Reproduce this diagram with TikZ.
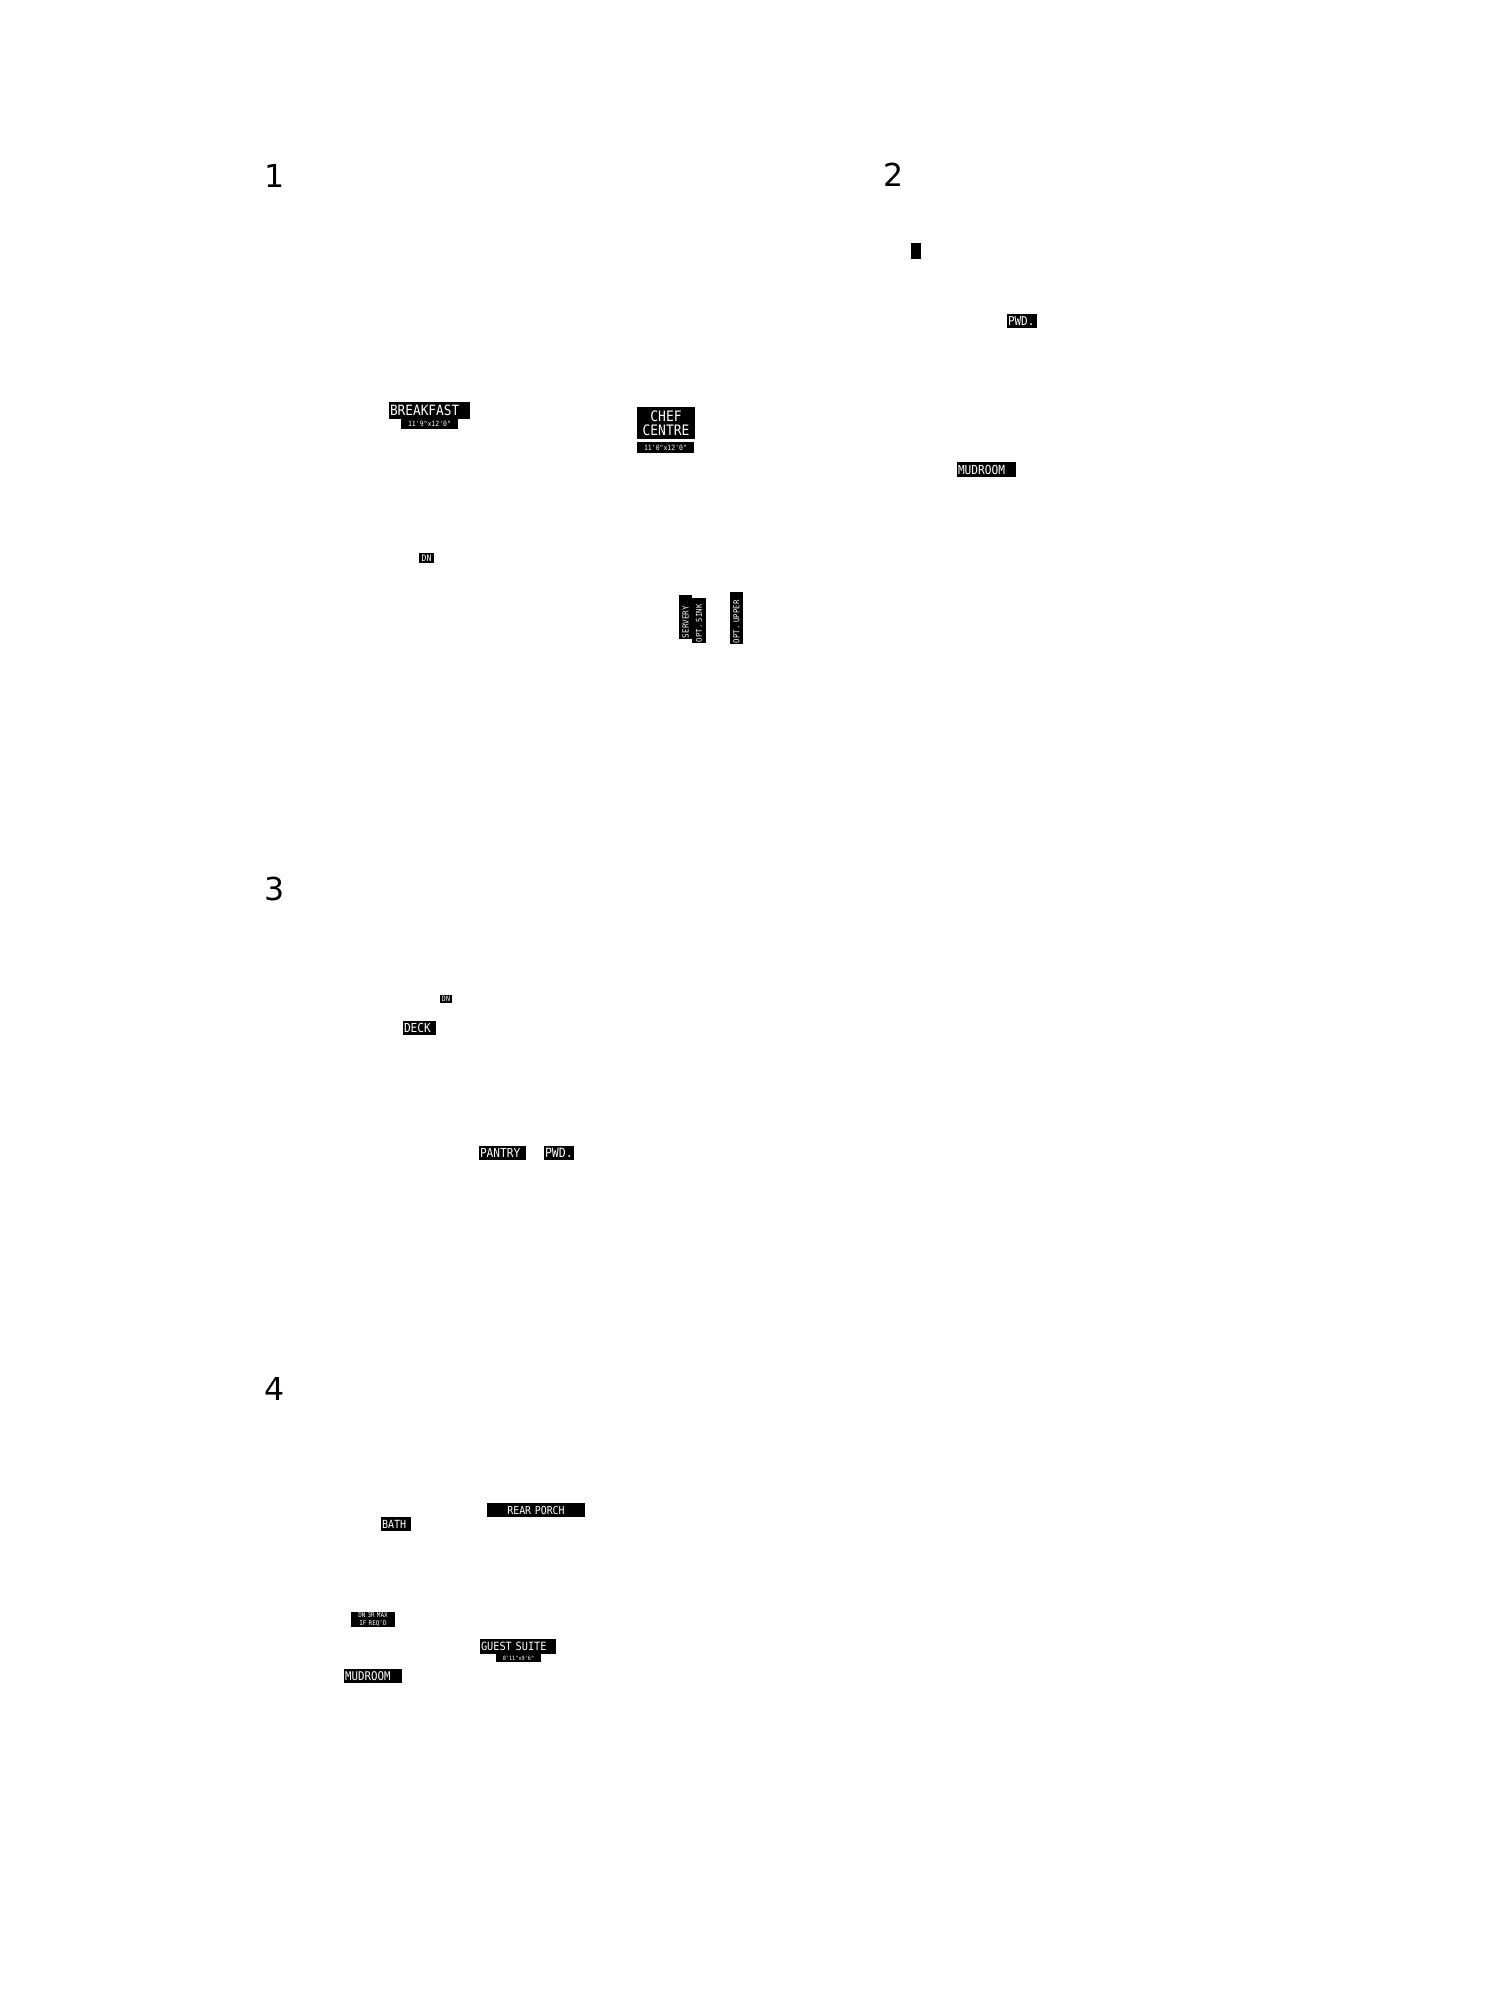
\documentclass[tikz,border=0pt]{standalone}
\usepackage{fontspec}
\newfontfamily\labfam[FakeStretch=0.9]{DejaVu Sans Mono}
\newfontfamily\numfam{DejaVu Sans}
\newcommand\labsz[1]{\fontsize{#1}{#1}\selectfont\labfam}
\tikzset{
  lab/.style={fill=black,text=white,inner xsep=0.5pt,inner ysep=0pt,outer sep=0pt,align=left,anchor=north west},
  rlab/.style={fill=black,text=white,inner xsep=0.5pt,inner ysep=0pt,outer sep=0pt,align=left,anchor=center,rotate=90},
  num/.style={font=\fontsize{15.8}{16}\selectfont\numfam,anchor=base west,inner sep=0pt},
}
% #1 options, #2 name, #3 x1, #4 y1, #5 x2, #6 y2 (pixels), #7 text
\newcommand\lbl[7][]{%
  \pgfmathsetmacro\lblw{(#5-#3)*0.5-1}%
  \pgfmathsetmacro\lblh{(#6-#4)*0.5}%
  \node[lab,text width=\lblw pt,minimum height=\lblh pt,#1] (#2) at (#3,#4) {#7};}
\begin{document}
\begin{tikzpicture}[x=0.5pt,y=-0.5pt]
\useasboundingbox (0,0) rectangle (1499,2000);
% plan numbers
\node[num] (n1) at (264.5,188) {1};
\node[num] (n2) at (883.5,187) {2};
\node[num] (n3) at (264,900) {3};
\node[num] (n4) at (264,1400) {4};
% plan 1
\lbl[font=\labsz{7.1}]{breakfast}{389}{402}{470}{419}{BREAKFAST}
\lbl[font=\labsz{3.6},align=center]{breakfastdim}{401}{419}{458}{429}{11'9"x12'0"}
\lbl[font=\fontsize{7.2}{7.2}\selectfont\labfam,align=center]{chef}{637}{407}{695}{439}{CHEF\\CENTRE}
\lbl[font=\labsz{3.6},align=center]{chefdim}{637}{442}{694}{453}{11'0"x12'0"}
\lbl[font=\labsz{4.5},align=center]{dn1}{419}{553}{434}{563}{DN}
\node[rlab,font=\labsz{4.2},text width=21pt,minimum height=6.5pt] (servery) at (685.5,617) {SERVERY};
\node[rlab,font=\labsz{4.0},text width=21.5pt,minimum height=7pt] (sink) at (699,620.5) {OPT. SINK};
\node[rlab,font=\labsz{4.1},text width=25pt,minimum height=6.5pt] (upper) at (736.5,618) {OPT. UPPER};
% plan 2
\lbl{blk}{911}{243}{921}{259}{}
\lbl[font=\labsz{6.1}]{pwd2}{1007}{314}{1037}{328}{PWD.}
\lbl[font=\labsz{6.2}]{mud2}{957}{462}{1016}{477}{MUDROOM}
% plan 3
\lbl[font=\labsz{3.7},align=center]{dn3}{440}{995}{452}{1003}{DN}
\lbl[font=\labsz{6.2}]{deck}{403}{1021}{436}{1035}{DECK}
\lbl[font=\labsz{6.2}]{pantry}{479}{1146}{526}{1160}{PANTRY}
\lbl[font=\labsz{6.4}]{pwd3}{544}{1146}{574}{1160}{PWD.}
% plan 4
\lbl[font=\labsz{5.5},align=center]{porch}{487}{1503}{585}{1517}{REAR PORCH}
\lbl[font=\labsz{5.6}]{bath}{381}{1517}{411}{1531}{BATH}
\lbl[font=\fontsize{3.3}{3.7}\selectfont\labfam,align=center]{dn4}{351}{1612}{395}{1627}{DN 3R MAX\\IF REQ'D}
\lbl[font=\labsz{5.7}]{guest}{480}{1639}{556}{1654}{GUEST SUITE}
\lbl[font=\labsz{2.9},align=center]{guestdim}{496}{1654}{541}{1662}{8'11"x9'6"}
\lbl[font=\labsz{6}]{mud4}{344}{1669}{402}{1683}{MUDROOM}
\end{tikzpicture}
\end{document}
